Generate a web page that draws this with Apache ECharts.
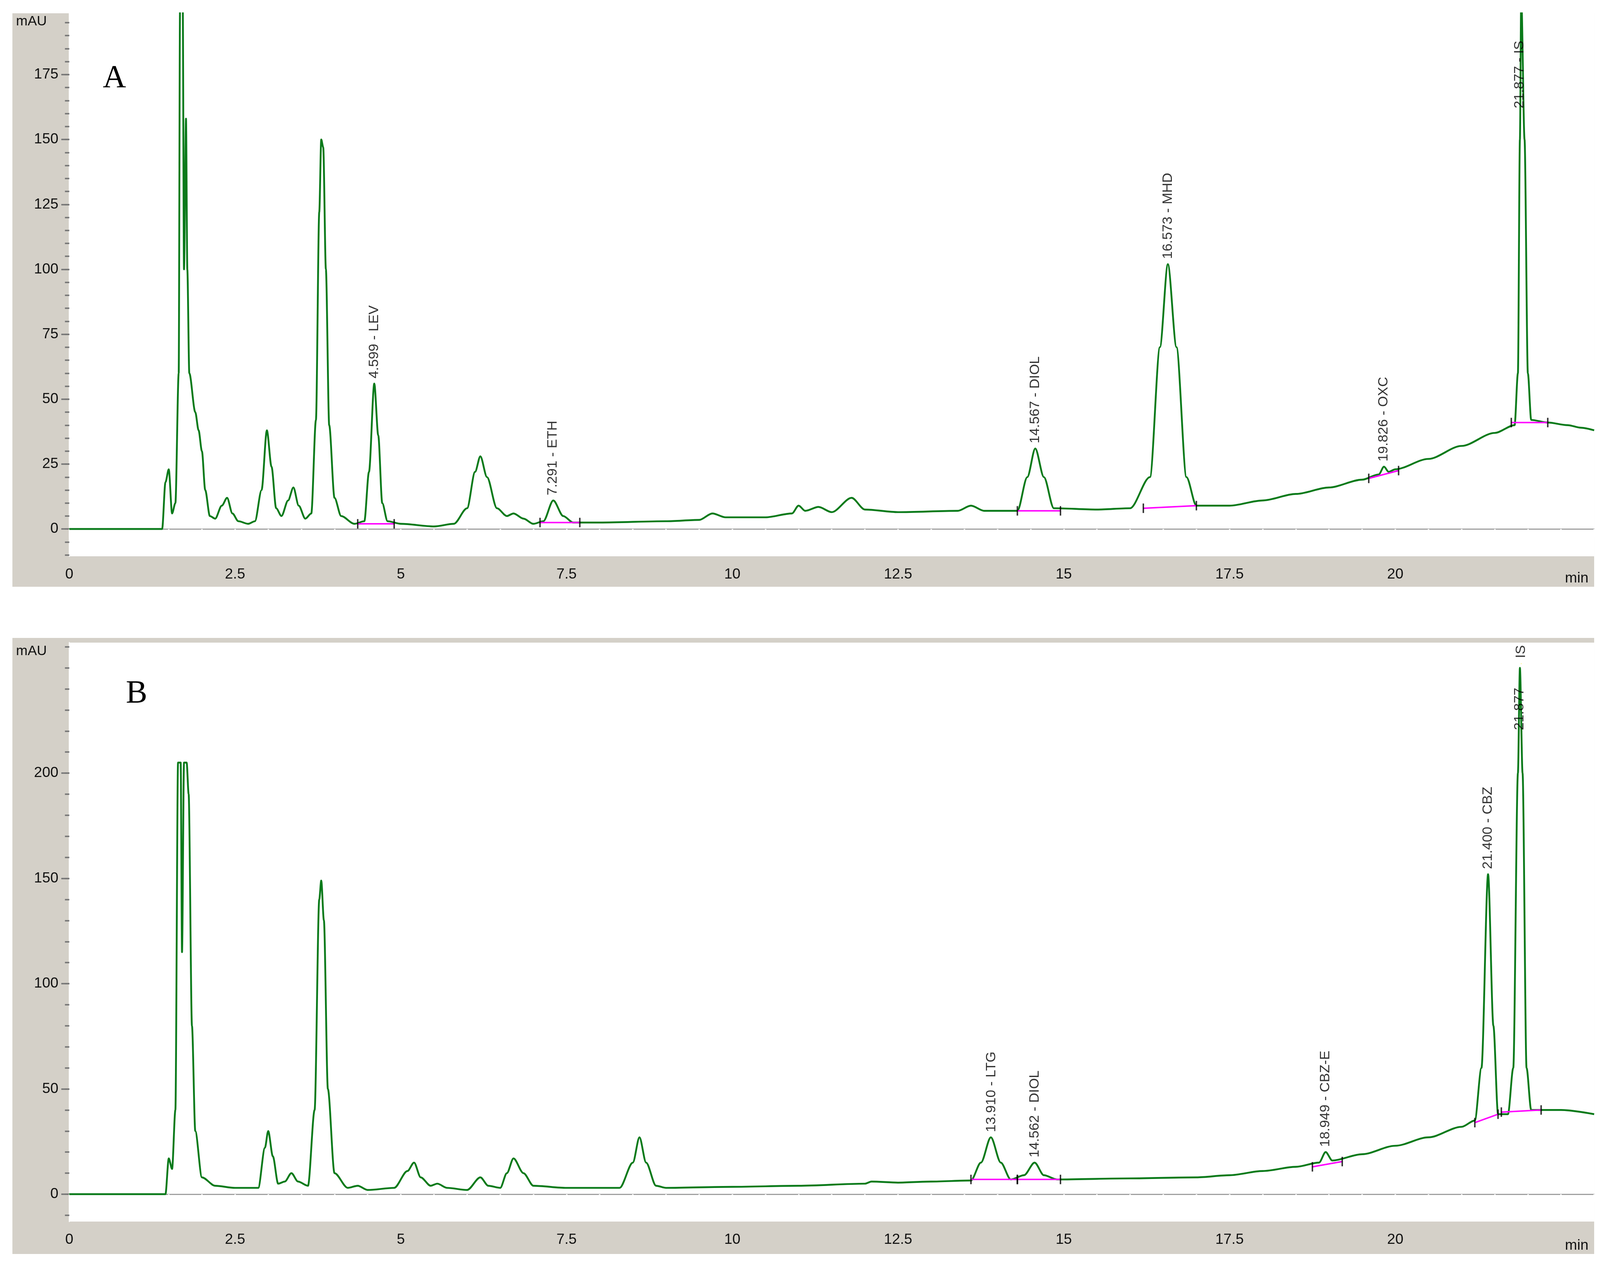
<!DOCTYPE html>
<html><head><meta charset="utf-8">
<script src="https://cdn.jsdelivr.net/npm/echarts@6/dist/echarts.min.js"></script>
<style>html,body{margin:0;padding:0;background:#fff;overflow:hidden;width:100%;height:100%}#c{width:100vw;height:100vh}</style>
</head><body><div id="c"></div>
<script>
const xTickLabels = [0, 2.5, 5, 7.5, 10, 12.5, 15, 17.5, 20];
const yTickLabelsA = [0, 25, 50, 75, 100, 125, 150, 175];
const yTickLabelsB = [0, 50, 100, 150, 200];

const traceA = [[0,0],[1.4,0],[1.45,18],[1.5,23],[1.55,6],[1.6,10],[1.65,60],[1.67,200],[1.71,205],[1.73,100],[1.76,158],[1.78,100],[1.81,60],[1.9,45],[1.95,38],[2.0,30],[2.05,15],[2.12,5],[2.2,4],[2.3,9],[2.38,12],[2.46,6],[2.55,3],[2.7,2],[2.8,3],[2.9,15],[2.98,38],[3.05,24],[3.12,8],[3.2,5],[3.3,11],[3.38,16],[3.46,9],[3.56,4],[3.65,6],[3.72,42],[3.77,122],[3.8,150],[3.83,147],[3.87,100],[3.92,40],[4.0,12],[4.1,5],[4.3,2],[4.45,3],[4.52,22],[4.6,56],[4.66,36],[4.72,10],[4.8,3],[5.0,2],[5.5,1],[5.8,2],[6.0,8],[6.12,22],[6.2,28],[6.3,20],[6.45,8],[6.6,5],[6.7,6],[6.85,4],[7.0,2],[7.15,3],[7.3,11],[7.45,5],[7.6,2.5],[8,2.5],[9,3],[9.5,3.5],[9.7,6],[9.9,4.5],[10.5,4.5],[10.9,6],[11.0,9],[11.1,7],[11.3,8.5],[11.5,6.5],[11.8,12],[12.0,7.5],[12.5,6.5],[13.4,7],[13.6,9],[13.8,7],[14.3,7],[14.45,20],[14.57,31],[14.7,20],[14.85,8],[15.5,7.5],[16.0,8],[16.3,20],[16.45,70],[16.57,102],[16.7,70],[16.85,20],[17.0,9],[17.5,9],[18,11],[18.5,13.5],[19,16],[19.5,19],[19.75,21],[19.83,24],[19.9,22],[20,23],[20.5,27],[21,32],[21.5,37],[21.8,40],[21.85,60],[21.88,150],[21.9,205],[21.95,150],[22.0,60],[22.05,42],[22.3,41],[22.6,40],[22.8,39],[23,38]];

const traceB = [[0,0],[1.45,0],[1.5,17],[1.55,12],[1.6,40],[1.64,205],[1.68,205],[1.7,115],[1.73,205],[1.77,205],[1.8,190],[1.85,80],[1.9,30],[2.0,8],[2.2,4],[2.5,3],[2.85,3],[2.95,22],[3.0,30],[3.07,18],[3.15,5],[3.25,6],[3.35,10],[3.45,6],[3.6,4],[3.7,40],[3.77,140],[3.8,149],[3.84,130],[3.9,50],[4.0,10],[4.2,3],[4.35,4],[4.5,2],[4.9,3],[5.1,11],[5.2,15],[5.3,8],[5.45,4],[5.55,5],[5.7,3],[6.0,2],[6.2,8],[6.32,4],[6.5,3],[6.6,10],[6.7,17],[6.85,10],[7.0,4],[7.5,3],[8.3,3],[8.5,15],[8.6,27],[8.7,15],[8.85,4],[9,3],[10,3.5],[11,4],[12,5],[12.1,6],[12.5,5.5],[13,6],[13.6,6.5],[13.75,15],[13.9,27],[14.05,15],[14.2,7],[14.4,9],[14.56,15],[14.7,9],[14.9,7],[16,7.5],[17,8],[17.5,9],[18,11],[18.5,13],[18.85,15],[18.95,20],[19.05,16],[19.5,19],[20,23],[20.5,27],[21,32],[21.2,35],[21.3,60],[21.4,152],[21.48,80],[21.55,38],[21.7,38],[21.78,60],[21.85,200],[21.88,250],[21.92,200],[21.98,60],[22.05,40],[22.5,40],[23,38]];

const baselinesA = [[[4.35,2],[4.9,2]],[[7.1,2.5],[7.7,2.5]],[[14.3,7],[14.95,7]],[[16.2,8],[17.0,9]],[[19.6,19.5],[20.05,22.5]],[[21.75,41],[22.3,41]]];
const baselinesB = [[[13.6,7],[14.3,7]],[[14.3,7],[14.95,7]],[[18.75,13],[19.2,15.5]],[[21.2,34],[21.55,38]],[[21.6,39],[22.2,40]]];
const labelsA = [[4.599,56,'4.599 - LEV'],[7.291,11,'7.291 - ETH'],[14.567,31,'14.567 - DIOL'],[16.573,102,'16.573 - MHD'],[19.826,24,'19.826 - OXC'],[21.877,160,'21.877 - IS']];
const labelsB = [[13.910,27,'13.910 - LTG'],[14.562,15,'14.562 - DIOL'],[18.949,20,'18.949 - CBZ-E'],[21.400,152,'21.400 - CBZ'],[21.877,218,'21.877'],[21.9,252,'IS']];

const range = (a,b,s)=>{const r=[];for(let v=a;v<=b+1e-9;v+=s)r.push(+v.toFixed(3));return r;};
const FONT = 'Liberation Sans';
const chart = echarts.init(document.getElementById('c'));
const W = chart.getWidth(), H = chart.getHeight();
const sx = W/4386, sy = H/3251, s = Math.min(sx, sy);
const X = v=>v*sx, Y = v=>v*sy, S = v=>v*s;

function xAxisFor(gi){
  return {type:'value',gridIndex:gi,min:0,max:23,interval:2.5,
    axisLine:{show:true,lineStyle:{color:'#a0a0a0',width:S(3)}},
    axisTick:{show:true,length:S(22),lineStyle:{color:'#ffffff',width:S(4)}},
    minorTick:{show:true,splitNumber:5,length:S(12),lineStyle:{color:'#ffffff',width:S(4)}},
    splitLine:{show:false},
    axisLabel:{fontFamily:FONT,fontSize:S(40),color:'#111',margin:S(30),formatter:v=>xTickLabels.includes(v)?String(v):''}};
}
function yAxesFor(gi,min,max,labels,minorStep){
  return [{type:'value',gridIndex:gi,min:min,max:max,
    axisLine:{show:true,lineStyle:{color:'#ffffff',width:S(3)}},
    axisTick:{show:true,length:S(22),customValues:labels,lineStyle:{color:'#777',width:S(4)}},
    axisLabel:{fontFamily:FONT,fontSize:S(40),color:'#111',margin:S(30),customValues:labels},
    splitLine:{show:false}},
   {type:'value',gridIndex:gi,min:min,max:max,position:'left',
    axisLine:{show:false},axisLabel:{show:false},splitLine:{show:false},
    axisTick:{show:true,length:S(12),customValues:range(Math.ceil(min/minorStep)*minorStep,max,minorStep),lineStyle:{color:'#777',width:S(4)}}}];
}

const series = [];
function addPanel(gi, trace, baselines, labels){
  const xi=gi, yi=gi*2;
  series.push({type:'line',xAxisIndex:xi,yAxisIndex:yi,data:trace,showSymbol:false,smooth:0.3,smoothMonotone:'x',lineStyle:{color:'#0a7a1a',width:S(5)},z:3,clip:true});
  baselines.forEach(b=>{
    series.push({type:'line',xAxisIndex:xi,yAxisIndex:yi,data:b,showSymbol:false,lineStyle:{color:'#ff00ff',width:S(4)},z:4});
    series.push({type:'scatter',xAxisIndex:xi,yAxisIndex:yi,data:b,symbol:'rect',symbolSize:[S(4),S(26)],itemStyle:{color:'#000'},z:5});
  });
  series.push({type:'scatter',xAxisIndex:xi,yAxisIndex:yi,symbolSize:0,z:6,
    data:labels.map(l=>({value:[l[0],l[1]],label:{formatter:l[2]}})),
    label:{show:true,position:'top',distance:S(14),rotate:90,align:'left',verticalAlign:'middle',fontFamily:FONT,fontSize:S(38),color:'#000'}});
}
addPanel(0, traceA, baselinesA, labelsA);
addPanel(1, traceB, baselinesB, labelsB);

chart.setOption({
  backgroundColor:'#ffffff',
  animation:false,
  grid:[{left:X(190),top:Y(34),right:X(16),height:Y(1390),show:true,backgroundColor:'#ffffff',borderWidth:0},
        {left:X(190),top:Y(1645),right:X(16),height:Y(1482),show:true,backgroundColor:'#ffffff',borderWidth:0}],
  xAxis:[xAxisFor(0),xAxisFor(1)],
  yAxis:[...yAxesFor(0,-10.5,198.6,yTickLabelsA,5),...yAxesFor(1,-13,262,yTickLabelsB,10)],
  series:series,
  graphic:[
    {type:'rect',shape:{x:X(34),y:Y(34),width:X(4336),height:Y(1468)},style:{fill:'#d4d0c8'},z:-10,silent:true},
    {type:'rect',shape:{x:X(34),y:Y(1633),width:X(4336),height:Y(1577)},style:{fill:'#d4d0c8'},z:-10,silent:true},
    {type:'text',x:X(44),y:Y(38),style:{text:'mAU',font:S(38)+'px "Liberation Sans"',fill:'#111'},z:10},
    {type:'text',x:X(44),y:Y(1650),style:{text:'mAU',font:S(38)+'px "Liberation Sans"',fill:'#111'},z:10},
    {type:'text',x:X(4290),y:Y(1462),style:{text:'min',font:S(40)+'px "Liberation Sans"',fill:'#111'},z:10},
    {type:'text',x:X(4290),y:Y(3170),style:{text:'min',font:S(40)+'px "Liberation Sans"',fill:'#111'},z:10},
    {type:'text',x:X(282),y:Y(160),style:{text:'A',font:S(88)+'px "Liberation Serif"',fill:'#000'},z:10},
    {type:'text',x:X(345),y:Y(1735),style:{text:'B',font:S(88)+'px "Liberation Serif"',fill:'#000'},z:10}
  ]
});
</script></body></html>
